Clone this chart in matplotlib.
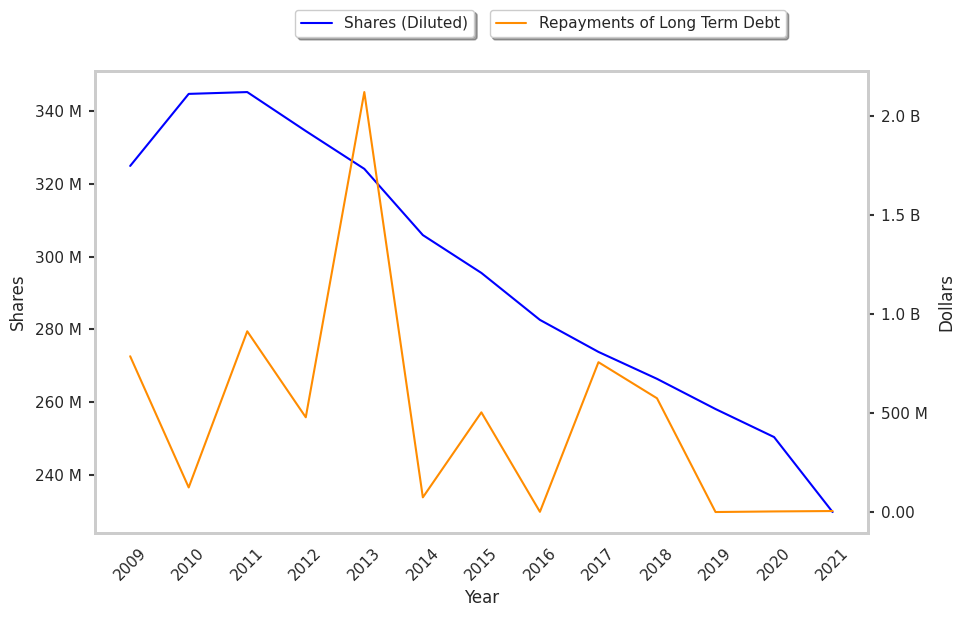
import matplotlib
matplotlib.use("Agg")
import matplotlib.pyplot as plt
import seaborn as sns

years = [2009, 2010, 2011, 2012, 2013, 2014, 2015, 2016, 2017, 2018, 2019, 2020, 2021]
shares_m = [324.9, 344.7, 345.2, 334.5, 324.1, 305.9, 295.5, 282.6, 273.8, 266.4, 258.1, 250.4, 229.8]
repay_b = [0.788, 0.126, 0.914, 0.480, 2.121, 0.076, 0.505, 0.003, 0.758, 0.576, 0.002, 0.005, 0.007]

sns.set_theme(style="white")
plt.rcParams["axes.edgecolor"] = "#cccccc"
plt.rcParams["axes.linewidth"] = 2.0

shares = [v * 1e6 for v in shares_m]
repay = [v * 1e9 for v in repay_b]


def fmt_shares(v, pos):
    return f"{v/1e6:.0f} M"


def fmt_dollars(v, pos):
    if abs(v) < 1:
        return "0.00"
    if abs(v) >= 1e9:
        return f"{v/1e9:.1f} B"
    return f"{v/1e6:.0f} M"


fig, ax = plt.subplots(figsize=(9.62, 6.18), dpi=100)
fig.subplots_adjust(left=0.0988, right=0.902, bottom=0.1375, top=0.885)
ax2 = ax.twinx()

l1, = ax.plot(years, shares, color="blue", lw=1.5, label="Shares (Diluted)")
l2, = ax2.plot(years, repay, color="darkorange", lw=1.5, label="Repayments of Long Term Debt")

ax.set_xticks(years)
ax.set_xticklabels([str(y) for y in years], rotation=45)
ax.set_yticks([240e6, 260e6, 280e6, 300e6, 320e6, 340e6])
ax.yaxis.set_major_formatter(plt.FuncFormatter(fmt_shares))
ax2.set_yticks([0, 0.5e9, 1.0e9, 1.5e9, 2.0e9])
ax2.yaxis.set_major_formatter(plt.FuncFormatter(fmt_dollars))

for a in (ax, ax2):
    a.tick_params(axis="y", length=4.5, width=1.5, color="#333333", labelsize=11, pad=5)
    a.tick_params(axis="x", length=0, labelsize=11, pad=9)
    a.grid(False)

ax.set_xlabel("Year", fontsize=12)
ax.set_ylabel("Shares", fontsize=12, labelpad=6)
ax2.set_ylabel("Dollars", fontsize=12, labelpad=7)

fig.legend(handles=[l1], loc="center", bbox_to_anchor=(0.400, 0.962),
           shadow=True, fontsize=11, frameon=True)
fig.legend(handles=[l2], loc="center", bbox_to_anchor=(0.663, 0.962),
           shadow=True, fontsize=11, frameon=True)

fig.savefig("out.png", dpi=100)
